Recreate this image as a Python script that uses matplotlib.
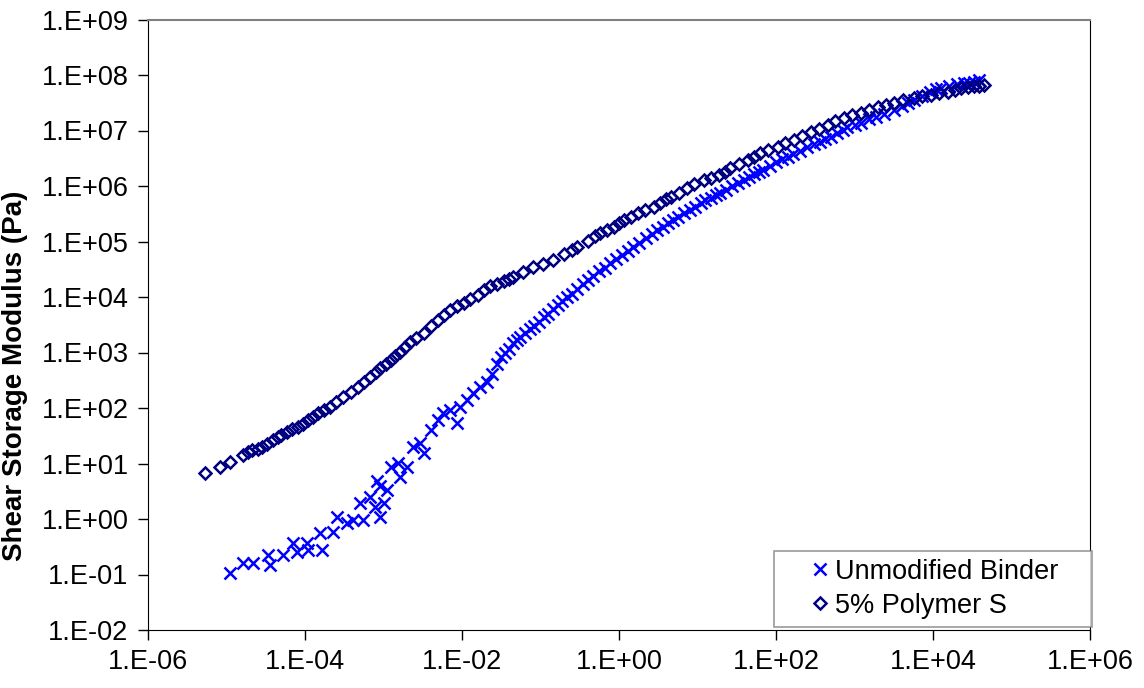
import numpy as np
import matplotlib.pyplot as plt

# log10 of frequency / modulus
binder_logx = [-4.95, -4.79, -4.66, -4.47, -4.44, -4.28, -4.15, -4.10, -3.97, -3.96,
               -3.81, -3.78, -3.64, -3.59, -3.46, -3.39, -3.30, -3.26, -3.17, -3.11,
               -3.08, -3.04, -3.04, -3.00, -2.95, -2.91, -2.82, -2.79, -2.70, -2.62,
               -2.53, -2.49, -2.40, -2.31, -2.24, -2.15, -2.06, -2.02, -1.93, -1.86,
               -1.77, -1.68, -1.62, -1.55, -1.50, -1.45, -1.40, -1.35, -1.30, -1.26,
               -1.20, -1.14, -1.08, -1.02, -0.96, -0.90, -0.84, -0.78, -0.72, -0.66,
               -0.60, -0.53, -0.46, -0.40, -0.33, -0.26, -0.18, -0.11, -0.04, 0.04,
               0.11, 0.18, 0.26, 0.34, 0.42, 0.49, 0.56, 0.62, 0.69, 0.75,
               0.83, 0.90, 0.97, 1.04, 1.10, 1.17, 1.23, 1.29, 1.36, 1.44,
               1.52, 1.59, 1.66, 1.72, 1.78, 1.84, 1.92, 2.00, 2.08, 2.15,
               2.22, 2.30, 2.40, 2.48, 2.56, 2.63, 2.70, 2.78, 2.85, 2.91,
               3.00, 3.08, 3.18, 3.28, 3.38, 3.50, 3.60, 3.68, 3.76, 3.86,
               3.96, 4.04, 4.10, 4.20, 4.30, 4.40, 4.46, 4.52, 4.58]
binder_logy = [-0.97, -0.79, -0.79, -0.65, -0.83, -0.65, -0.43, -0.59, -0.43, -0.56,
               -0.25, -0.56, -0.23, 0.04, -0.07, -0.02, 0.29, -0.02, 0.40, 0.22,
               0.68, 0.04, 0.60, 0.29, 0.52, 0.94, 1.01, 0.76, 0.94, 1.30,
               1.37, 1.19, 1.60, 1.78, 1.91, 1.96, 1.73, 2.02, 2.14, 2.27,
               2.38, 2.47, 2.62, 2.80, 2.92, 2.99, 3.06, 3.17, 3.22, 3.28,
               3.36, 3.42, 3.48, 3.55, 3.64, 3.70, 3.78, 3.85, 3.92, 4.00,
               4.06, 4.14, 4.24, 4.31, 4.38, 4.46, 4.53, 4.61, 4.68, 4.76,
               4.83, 4.90, 4.98, 5.06, 5.14, 5.21, 5.27, 5.33, 5.39, 5.44,
               5.51, 5.57, 5.63, 5.69, 5.74, 5.79, 5.84, 5.87, 5.93, 6.00,
               6.06, 6.11, 6.16, 6.21, 6.25, 6.29, 6.36, 6.43, 6.48, 6.52,
               6.57, 6.63, 6.70, 6.75, 6.80, 6.85, 6.88, 6.95, 7.01, 7.06,
               7.10, 7.14, 7.20, 7.25, 7.30, 7.37, 7.44, 7.50, 7.55, 7.63,
               7.70, 7.74, 7.77, 7.80, 7.83, 7.85, 7.86, 7.87, 7.91]

polymer_logx = [-5.27, -5.08, -4.95, -4.79, -4.72, -4.67, -4.60, -4.55, -4.48, -4.41,
                -4.35, -4.30, -4.23, -4.16, -4.09, -4.02, -3.96, -3.90, -3.83, -3.76,
                -3.68, -3.60, -3.51, -3.42, -3.33, -3.25, -3.17, -3.10, -3.04, -2.97,
                -2.91, -2.85, -2.79, -2.72, -2.66, -2.58, -2.49, -2.40, -2.31, -2.23,
                -2.15, -2.06, -1.98, -1.90, -1.80, -1.72, -1.64, -1.55, -1.47, -1.40,
                -1.35, -1.22, -1.09, -0.97, -0.84, -0.70, -0.60, -0.53, -0.40, -0.30,
                -0.24, -0.15, -0.07, 0.00, 0.06, 0.15, 0.24, 0.33, 0.44, 0.52,
                0.60, 0.66, 0.76, 0.87, 0.96, 1.08, 1.17, 1.27, 1.35, 1.42,
                1.53, 1.64, 1.72, 1.80, 1.90, 2.02, 2.12, 2.23, 2.33, 2.44,
                2.55, 2.66, 2.75, 2.86, 2.97, 3.08, 3.18, 3.30, 3.40, 3.50,
                3.62, 3.76, 3.86, 3.97, 4.08, 4.19, 4.28, 4.36, 4.44, 4.52,
                4.58, 4.65]
polymer_logy = [0.83, 0.94, 1.03, 1.15, 1.20, 1.24, 1.27, 1.30, 1.36, 1.42,
                1.47, 1.51, 1.57, 1.62, 1.66, 1.72, 1.78, 1.84, 1.91, 1.96,
                2.02, 2.11, 2.20, 2.29, 2.38, 2.47, 2.56, 2.64, 2.72, 2.79,
                2.86, 2.94, 3.01, 3.10, 3.19, 3.27, 3.35, 3.47, 3.59, 3.68,
                3.77, 3.83, 3.89, 3.96, 4.04, 4.12, 4.19, 4.24, 4.29, 4.33,
                4.36, 4.45, 4.54, 4.60, 4.67, 4.77, 4.85, 4.90, 5.01, 5.10,
                5.15, 5.21, 5.26, 5.33, 5.39, 5.45, 5.51, 5.56, 5.62, 5.70,
                5.76, 5.80, 5.88, 5.96, 6.03, 6.11, 6.15, 6.20, 6.26, 6.32,
                6.40, 6.47, 6.53, 6.59, 6.64, 6.70, 6.77, 6.83, 6.90, 6.97,
                7.03, 7.10, 7.17, 7.23, 7.28, 7.32, 7.37, 7.42, 7.46, 7.50,
                7.55, 7.59, 7.62, 7.64, 7.67, 7.69, 7.73, 7.76, 7.78, 7.80,
                7.81, 7.82]

xticks = [1e-6, 1e-4, 1e-2, 1e0, 1e2, 1e4, 1e6]
xticklabels = ['1.E-06', '1.E-04', '1.E-02', '1.E+00', '1.E+02', '1.E+04', '1.E+06']
yticks = [1e-2, 1e-1, 1e0, 1e1, 1e2, 1e3, 1e4, 1e5, 1e6, 1e7, 1e8, 1e9]
yticklabels = ['1.E-02', '1.E-01', '1.E+00', '1.E+01', '1.E+02', '1.E+03',
               '1.E+04', '1.E+05', '1.E+06', '1.E+07', '1.E+08', '1.E+09']

plt.rcParams['font.family'] = ['Liberation Sans', 'DejaVu Sans']

fig = plt.figure(figsize=(11.44, 6.88), dpi=100)
ax = fig.add_axes([148/1144, 1 - 630/688, 942/1144, 610.5/688])

ax.plot(10**np.array(binder_logx), 10**np.array(binder_logy), 'x', color='#0000FF',
        markersize=8, markeredgewidth=1.8, label='Unmodified Binder', linestyle='none')
ax.plot(10**np.array(polymer_logx), 10**np.array(polymer_logy), 'D', color='#000080',
        markersize=6.5, markeredgewidth=1.8, markerfacecolor='none',
        label='5% Polymer S', linestyle='none')

ax.set_xscale('log')
ax.set_yscale('log')
ax.set_xlim(1e-6, 1e6)
ax.set_ylim(1e-2, 1e9)
ax.set_xticks(xticks)
ax.set_xticklabels(xticklabels)
ax.set_yticks(yticks)
ax.set_yticklabels(yticklabels)
ax.minorticks_off()
ax.tick_params(direction='out', length=7, width=1, labelsize=19.5, pad=7)

ax.spines['top'].set_color('#808080')
ax.spines['top'].set_linewidth(1.5)
ax.spines['right'].set_color('black')

ax.set_ylabel('Shear Storage Modulus (Pa)', fontsize=20, fontweight='bold')
ax.yaxis.set_label_coords(-0.127, 0.416)

leg = ax.legend(loc='lower left', bbox_to_anchor=(774/1144, 1 - 627/688, 318/1144, 79/688),
                bbox_transform=fig.transFigure, mode='expand', fontsize=19.5,
                frameon=True, fancybox=False, borderpad=0.3, handlelength=2.8,
                handletextpad=-0.85, labelspacing=0.3, borderaxespad=0)
leg.get_frame().set_edgecolor('#808080')
leg.get_frame().set_linewidth(1.2)

plt.savefig('out.png', dpi=100)
